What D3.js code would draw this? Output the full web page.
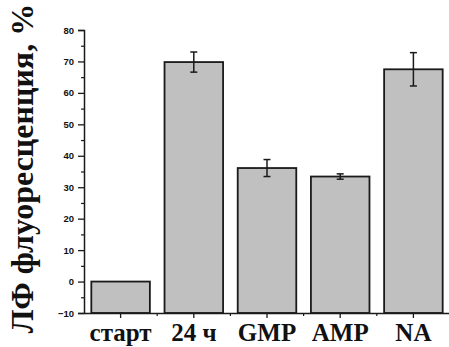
<!DOCTYPE html>
<html><head><meta charset="utf-8">
<script src="https://cdn.jsdelivr.net/npm/d3@7"></script>
<style>body{margin:0;background:#fff}svg{display:block}</style>
</head><body>
<script>
const categories = ["старт", "24 ч", "GMP", "AMP", "NA"];
const values = [0, 69.8, 36.1, 33.4, 67.5];
const errors = [0, 3.2, 2.7, 0.85, 5.3];
const yTicks = [-10, 0, 10, 20, 30, 40, 50, 60, 70, 80];
const yMinorTicks = [-5, 5, 15, 25, 35, 45, 55, 65, 75];
const yTitle = "ЛФ флуоресценция, %";

const W = 449, H = 347;
const svg = d3.select("body").append("svg").attr("width", W).attr("height", H);

const x = d3.scaleBand().domain(categories).range([84, 450]).paddingInner(0.2).paddingOuter(0.1);
const y = d3.scaleLinear().domain([-10, 80]).range([313, 30]);

// bars
svg.selectAll("rect.bar").data(categories).enter().append("rect")
  .attr("class", "bar")
  .attr("x", d => x(d))
  .attr("width", x.bandwidth())
  .attr("y", (d, i) => y(values[i]))
  .attr("height", (d, i) => y(-10) - y(values[i]))
  .attr("fill", "#c0c0c0")
  .attr("stroke", "#1a1a1a")
  .attr("stroke-width", 1.8);

// error bars
const eg = svg.append("g").attr("stroke", "#1a1a1a").attr("stroke-width", 1.5);
categories.forEach((c, i) => {
  if (errors[i] <= 0) return;
  const cx = x(c) + x.bandwidth() / 2;
  const y1 = y(values[i] + errors[i]), y2 = y(values[i] - errors[i]);
  eg.append("line").attr("x1", cx).attr("x2", cx).attr("y1", y1).attr("y2", y2);
  eg.append("line").attr("x1", cx - 3.5).attr("x2", cx + 3.5).attr("y1", y1).attr("y2", y1);
  eg.append("line").attr("x1", cx - 3.5).attr("x2", cx + 3.5).attr("y1", y2).attr("y2", y2);
});

// y axis
const ya = svg.append("g").attr("transform", "translate(84,0)")
  .call(d3.axisLeft(y).tickValues(yTicks).tickSize(6).tickPadding(4).tickFormat(d3.format("d")));
ya.select(".domain").attr("stroke", "#1a1a1a").attr("stroke-width", 1.5);
ya.selectAll(".tick line").attr("stroke", "#1a1a1a").attr("stroke-width", 1.3);
ya.selectAll(".tick text").attr("font-family", "Liberation Sans, Arial, sans-serif")
  .attr("font-weight", "bold").attr("font-size", 9.5).attr("fill", "#111");
const yam = svg.append("g").attr("transform", "translate(84,0)")
  .call(d3.axisLeft(y).tickValues(yMinorTicks).tickSize(3).tickFormat(""));
yam.select(".domain").remove();
yam.selectAll(".tick line").attr("stroke", "#1a1a1a").attr("stroke-width", 1.2);

// x axis
const xa = svg.append("g").attr("transform", "translate(0,313)")
  .call(d3.axisBottom(x).tickSize(5).tickSizeOuter(0).tickPadding(5));
xa.select(".domain").attr("stroke", "#1a1a1a").attr("stroke-width", 1.5);
xa.selectAll(".tick line").attr("stroke", "#1a1a1a").attr("stroke-width", 1.3);
xa.selectAll(".tick text").attr("font-family", "Liberation Serif, Times New Roman, serif")
  .attr("font-weight", "bold").attr("font-size", 25).attr("fill", "#111").attr("dy", "0.71em");
// minor x ticks between bars
const step = x.step();
const xMinor = categories.slice(1).map(c => x(c) - step * x.paddingInner() / 2);
svg.append("g").selectAll("line").data(xMinor).enter().append("line")
  .attr("x1", d => d).attr("x2", d => d).attr("y1", 313).attr("y2", 316)
  .attr("stroke", "#1a1a1a").attr("stroke-width", 1.2);

// y title
svg.append("text")
  .attr("transform", "translate(33,168.5) rotate(-90)")
  .attr("text-anchor", "middle")
  .attr("font-family", "Liberation Serif, Times New Roman, serif")
  .attr("font-weight", "bold").attr("font-size", 32).attr("fill", "#111")
  .text(yTitle);
</script>
</body></html>
